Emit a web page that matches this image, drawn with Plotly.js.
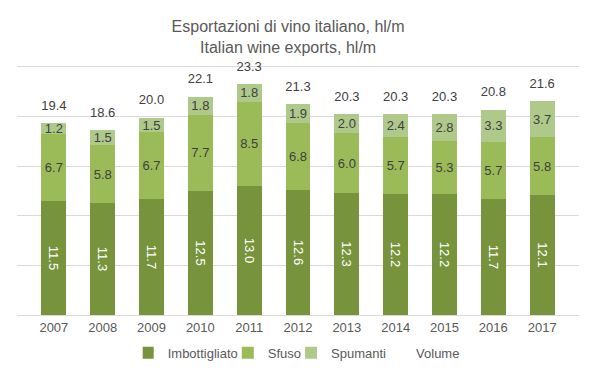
<!DOCTYPE html>
<html><head><meta charset="utf-8">
<script src="https://cdn.plot.ly/plotly-3.0.1.min.js"></script>
<style>html,body{margin:0;padding:0;background:#fff}#c{width:599px;height:373px}</style>
</head><body><div id="c"></div>
<script>
const years = ['2007','2008','2009','2010','2011','2012','2013','2014','2015','2016','2017'];
const imbottigliato = [11.5, 11.3, 11.7, 12.5, 13.0, 12.6, 12.3, 12.2, 12.2, 11.7, 12.1];
const sfuso = [6.7, 5.8, 6.7, 7.7, 8.5, 6.8, 6.0, 5.7, 5.3, 5.7, 5.8];
const spumanti = [1.2, 1.5, 1.5, 1.8, 1.8, 1.9, 2.0, 2.4, 2.8, 3.3, 3.7];
const volume = [19.4, 18.6, 20.0, 22.1, 23.3, 21.3, 20.3, 20.3, 20.3, 20.8, 21.6];

const FONT = 'Liberation Sans, Arial, sans-serif';
const fmt = v => v.toFixed(1);

function barTrace(name, vals, color, txtColor, angle) {
  return {
    type: 'bar', name: name, x: years, y: vals,
    marker: {color: color},
    text: vals.map(fmt), textposition: 'inside', insidetextanchor: 'middle',
    constraintext: 'none', textangle: angle,
    insidetextfont: {family: FONT, size: 13, color: txtColor},
    hoverinfo: 'none'
  };
}

const data = [
  barTrace('Imbottigliato', imbottigliato, '#77933C', '#ffffff', 90),
  barTrace('Sfuso', sfuso, '#9BBB59', '#404040', 0),
  barTrace('Spumanti', spumanti, '#AFC98A', '#404040', 0),
  {
    type: 'scatter', mode: 'markers+text', name: 'Volume', x: years, y: volume,
    marker: {size: 14, color: 'rgba(0,0,0,0)'},
    text: volume.map(fmt), textposition: 'top center',
    textfont: {family: FONT, size: 13, color: '#404040'},
    cliponaxis: false, hoverinfo: 'none'
  }
];

const layout = {
  width: 599, height: 373,
  margin: {l: 17, r: 20, t: 62, b: 58},
  paper_bgcolor: '#fff', plot_bgcolor: '#fff',
  barmode: 'stack', bargap: 0.49,
  title: {
    text: 'Esportazioni di vino italiano, hl/m<br>Italian wine exports, hl/m',
    font: {family: 'Liberation Sans Narrow, Arial Narrow, sans-serif', size: 16, color: '#595959'},
    xref: 'container', x: 0.481, xanchor: 'center',
    yref: 'container', y: 0.914, yanchor: 'top'
  },
  xaxis: {
    type: 'category', showgrid: false, showline: true, linecolor: '#d9d9d9', linewidth: 1,
    ticks: '', tickfont: {family: FONT, size: 13, color: '#595959'}
  },
  yaxis: {
    range: [0, 25.5], tickvals: [0, 5, 10, 15, 20, 25], showticklabels: false, showgrid: true,
    gridcolor: '#d9d9d9', zeroline: false, ticks: ''
  },
  showlegend: true,
  legend: {
    orientation: 'h', xref: 'container', x: 0.507, xanchor: 'center',
    yref: 'container', y: 0.054, yanchor: 'middle',
    indentation: -15,
    font: {family: FONT, size: 13, color: '#595959'}, traceorder: 'normal'
  },
  font: {family: FONT}
};

Plotly.newPlot('c', data, layout, {staticPlot: true, displayModeBar: false});
</script>
</body></html>
